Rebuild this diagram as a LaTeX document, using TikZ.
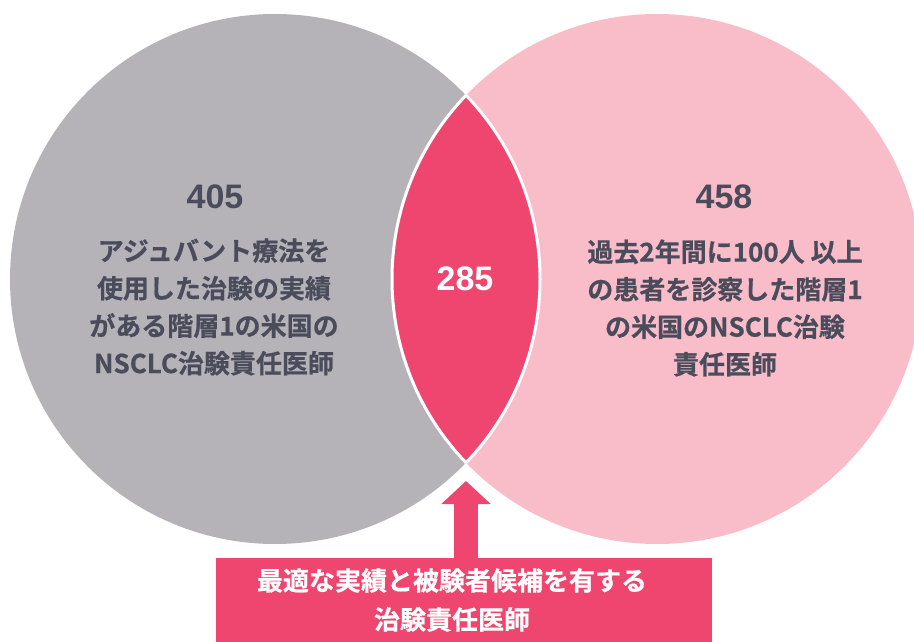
\documentclass[tikz,border=0pt]{standalone}
\usepackage{fontspec}
\usetikzlibrary{arrows.meta}
\newfontfamily\jpbold{Noto Sans CJK JP Bold}[FakeBold=0.6]
\newfontfamily\numbold{Liberation Sans Bold}

\definecolor{greyset}{HTML}{B5B3B8}
\definecolor{pinkset}{HTML}{F9BDCA}
\definecolor{redset}{HTML}{EE466E}
\definecolor{darktext}{HTML}{4A4C5B}

\begin{document}
\begin{tikzpicture}[x=1pt,y=-1pt,
    set_circle/.style ={circle, draw=none, minimum size=530pt, inner sep=0pt},
    set_count/.style ={font=\numbold\fontsize{34}{34}\selectfont, text=darktext},
    set_label/.style ={align=center, text=darktext,
      font=\jpbold\fontsize{26}{37.5}\selectfont},
    block_result/.style ={rectangle, draw=none, fill=redset, text=white,
      minimum width=496pt, minimum height=84pt, align=center,
      font=\jpbold\fontsize{26}{39}\selectfont},
    line/.style ={draw=redset, line width=24pt,
      -{Triangle[width=48pt,length=23pt]}}]
    \useasboundingbox (0,0) rectangle (914,642);
    % the two sets
    \node [set_circle, fill=greyset] (adjuvant) at (275,279) {};
    \node [set_circle, fill=pinkset] (patients) at (657,279) {};
    % overlap of both sets
    \begin{scope}
      \clip (adjuvant.center) circle (265pt);
      \fill [redset] (patients.center) circle (265pt);
      \draw [white, line width=3pt] (patients.center) circle (265pt);
    \end{scope}
    \begin{scope}
      \clip (patients.center) circle (265pt);
      \draw [white, line width=3pt] (adjuvant.center) circle (265pt);
    \end{scope}
    % counts and labels
    \node [set_count] (count_adjuvant) at (215,197) {405};
    \node [set_label] (label_adjuvant) at (214,307)
      {アジュバント療法を\\使用した治験の実績\\がある階層1の米国の\\NSCLC治験責任医師};
    \node [set_count] (count_patients) at (724,197) {458};
    \node [set_label] (label_patients) at (725,308)
      {過去2年間に100人 以上\\の患者を診察した階層1\\の米国のNSCLC治験\\責任医師};
    \node [set_count, text=white] (count_both) at (465,279) {285};
    % result box and arrow
    \node [block_result] (result) at (464,600)
      {最適な実績と被験者候補を有する\hspace*{24pt}\\治験責任医師\hspace*{24pt}};
    \coordinate (lens_bottom) at (466,481);
    \path [line] (result.north -| lens_bottom) -- (lens_bottom);
\end{tikzpicture}
\end{document}
